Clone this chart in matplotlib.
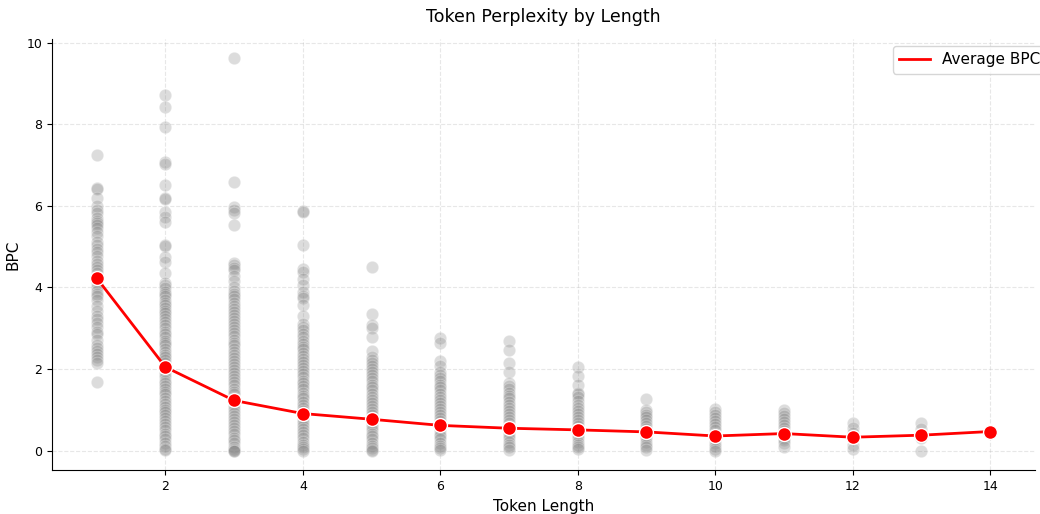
import matplotlib
matplotlib.use("Agg")
import matplotlib.pyplot as plt
from matplotlib.lines import Line2D
import numpy as np

# =====================================================
# Data (BPC per token, grouped by token length)
# =====================================================

token_lengths = [1, 2, 3, 4, 5, 6, 7, 8, 9, 10, 11, 12, 13, 14]

bpc_len1 = [7.25, 6.45, 6.42, 6.2, 6.0, 5.9, 5.82, 5.7, 5.62, 5.58, 5.52, 5.45, 5.35,
            5.25, 5.12, 5.05, 4.95, 4.88, 4.78, 4.65, 4.58, 4.5, 4.42, 4.35, 4.28,
            4.18, 4.1, 4.02, 3.92, 3.85, 3.78, 3.7, 3.55, 3.42, 3.3, 3.22, 3.12,
            3.02, 2.92, 2.85, 2.72, 2.6, 2.52, 2.45, 2.38, 2.3, 2.22, 2.15, 1.68]
bpc_len2 = [8.72, 8.42, 7.93, 7.08, 7.02, 6.52, 6.2, 6.18, 5.85, 5.72, 5.6, 5.05, 5.02,
            4.75, 4.62, 4.35, 4.12, 4.05, 3.98, 3.9, 3.85, 3.78, 3.7, 3.62, 3.58,
            3.5, 3.42, 3.38, 3.3, 3.22, 3.15, 3.08, 3.0, 2.92, 2.85, 2.78, 2.7,
            2.65, 2.58, 2.5, 2.42, 2.35, 2.3, 2.22, 2.15, 2.08, 2.0, 1.95, 1.88,
            1.8, 1.72, 1.65, 1.58, 1.5, 1.45, 1.38, 1.3, 1.22, 1.15, 1.08, 1.0,
            0.95, 0.88, 0.8, 0.72, 0.65, 0.58, 0.5, 0.42, 0.35, 0.28, 0.2, 0.12,
            0.05, 0.02]
bpc_len3 = [9.62, 6.58, 5.97, 5.9, 5.82, 5.52, 4.6, 4.55, 4.48, 4.42, 4.28, 4.15, 4.02,
            3.92, 3.85, 3.8, 3.72, 3.62, 3.55, 3.48, 3.4, 3.32, 3.25, 3.18, 3.1,
            3.02, 2.95, 2.88, 2.8, 2.72, 2.65, 2.58, 2.5, 2.42, 2.35, 2.28, 2.2,
            2.12, 2.05, 1.98, 1.9, 1.82, 1.75, 1.68, 1.6, 1.52, 1.45, 1.38, 1.3,
            1.22, 1.15, 1.08, 1.0, 0.92, 0.85, 0.78, 0.7, 0.62, 0.55, 0.48, 0.4,
            0.32, 0.25, 0.18, 0.1, 0.05, 0.02, 0.0, 0.0]
bpc_len4 = [5.88, 5.86, 5.05, 4.45, 4.38, 4.2, 4.05, 3.9, 3.8, 3.75, 3.58, 3.3, 3.1,
            3.02, 2.95, 2.85, 2.78, 2.7, 2.62, 2.55, 2.48, 2.4, 2.32, 2.25, 2.18,
            2.1, 2.02, 1.95, 1.88, 1.8, 1.72, 1.65, 1.58, 1.5, 1.42, 1.35, 1.28,
            1.2, 1.12, 1.05, 0.98, 0.9, 0.82, 0.75, 0.68, 0.6, 0.52, 0.45, 0.38,
            0.3, 0.22, 0.15, 0.08, 0.03, 0.0]
bpc_len5 = [4.5, 3.35, 3.08, 3.0, 2.78, 2.45, 2.3, 2.22, 2.15, 2.08, 2.0, 1.92, 1.85,
            1.78, 1.7, 1.62, 1.55, 1.48, 1.4, 1.32, 1.25, 1.18, 1.1, 1.02, 0.95,
            0.88, 0.8, 0.72, 0.65, 0.58, 0.5, 0.42, 0.35, 0.28, 0.2, 0.12, 0.06,
            0.02, 0.0]
bpc_len6 = [2.75, 2.65, 2.2, 2.08, 1.92, 1.85, 1.78, 1.7, 1.62, 1.55, 1.48, 1.4, 1.32,
            1.25, 1.18, 1.1, 1.02, 0.95, 0.88, 0.8, 0.72, 0.65, 0.58, 0.5, 0.42,
            0.35, 0.28, 0.2, 0.12, 0.06, 0.02]
bpc_len7 = [2.68, 2.46, 2.15, 1.92, 1.65, 1.58, 1.5, 1.42, 1.35, 1.28, 1.2, 1.12, 1.05,
            0.98, 0.9, 0.82, 0.75, 0.68, 0.6, 0.52, 0.45, 0.38, 0.3, 0.22, 0.15,
            0.08, 0.02]
bpc_len8 = [2.04, 1.84, 1.62, 1.42, 1.4, 1.32, 1.22, 1.12, 1.05, 0.98, 0.9, 0.82, 0.75,
            0.68, 0.6, 0.52, 0.45, 0.38, 0.3, 0.22, 0.15, 0.08, 0.03]
bpc_len9 = [1.27, 1.0, 0.95, 0.88, 0.82, 0.75, 0.68, 0.6, 0.52, 0.45, 0.38, 0.3, 0.22,
            0.15, 0.08, 0.02]
bpc_len10 = [1.03, 0.95, 0.88, 0.8, 0.72, 0.65, 0.58, 0.5, 0.42, 0.35, 0.28, 0.2,
             0.12, 0.05, 0.0]
bpc_len11 = [1.0, 0.93, 0.85, 0.78, 0.7, 0.62, 0.55, 0.48, 0.4, 0.32, 0.25, 0.18, 0.1]
bpc_len12 = [0.69, 0.55, 0.43, 0.31, 0.15, 0.03]
bpc_len13 = [0.68, 0.52, 0.32, 0.0]
bpc_len14 = [0.47]

avg_bpc = [4.23, 2.05, 1.23, 0.91, 0.77, 0.62, 0.55, 0.51, 0.46, 0.36, 0.42, 0.33,
           0.38, 0.47]

groups = [bpc_len1, bpc_len2, bpc_len3, bpc_len4, bpc_len5, bpc_len6, bpc_len7,
          bpc_len8, bpc_len9, bpc_len10, bpc_len11, bpc_len12, bpc_len13, bpc_len14]

# =====================================================
# Plot
# =====================================================

fig, ax = plt.subplots(figsize=(10.4, 5.14), dpi=100)

xs = np.concatenate([[L] * len(g) for L, g in zip(token_lengths, groups)])
ys = np.concatenate(groups)
ax.scatter(xs, ys, s=80, color="gray", alpha=0.27, edgecolors="white",
           linewidths=0.7, zorder=2)

ax.plot(token_lengths, avg_bpc, color="red", linewidth=2, marker="o",
        markersize=10, markeredgecolor="white", markeredgewidth=1, zorder=3)

ax.set_title("Token Perplexity by Length", fontsize=12.5, pad=12)
ax.set_xlabel("Token Length", fontsize=11)
ax.set_ylabel("BPC", fontsize=11)
ax.tick_params(labelsize=9)

ax.grid(True, linestyle="--", alpha=0.3)
ax.spines["top"].set_visible(False)
ax.spines["right"].set_visible(False)

# legend shows the line only
handle = Line2D([0], [0], color="red", linewidth=2)
ax.legend([handle], ["Average BPC"], loc="upper left",
          bbox_to_anchor=(0.856, 0.982), borderaxespad=0, fontsize=11)

fig.subplots_adjust(left=0.05, right=0.995, top=0.925, bottom=0.085)
fig.savefig("out.png", dpi=100)
